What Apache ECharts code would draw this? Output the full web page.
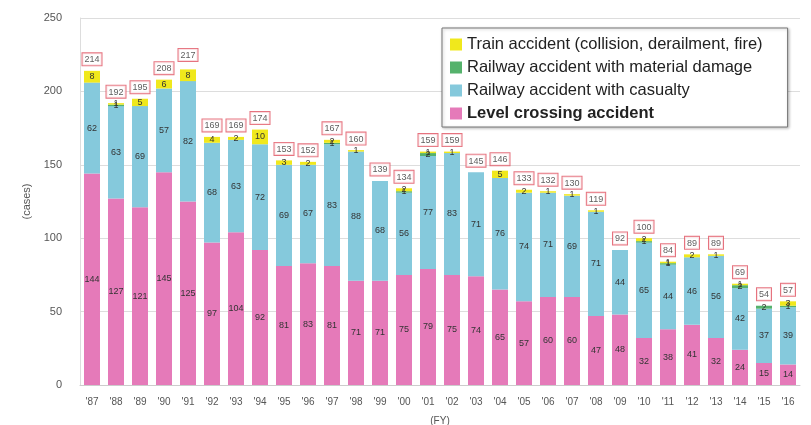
<!DOCTYPE html>
<html><head><meta charset="utf-8">
<script src="https://cdn.jsdelivr.net/npm/echarts@6/dist/echarts.min.js"></script>
<style>html,body{margin:0;padding:0;background:#fff}#c{width:811px;height:425px}</style>
</head><body><div id="c"></div>
<script>
var years = ["'87","'88","'89","'90","'91","'92","'93","'94","'95","'96","'97","'98","'99","'00","'01","'02","'03","'04","'05","'06","'07","'08","'09","'10","'11","'12","'13","'14","'15","'16"];
var levelCrossing = [144,127,121,145,125,97,104,92,81,83,81,71,71,75,79,75,74,65,57,60,60,47,48,32,38,41,32,24,15,14];
var casualty      = [62,63,69,57,82,68,63,72,69,67,83,88,68,56,77,83,71,76,74,71,69,71,44,65,44,46,56,42,37,39];
var material      = [0,1,0,0,0,0,0,0,0,0,1,0,0,1,2,0,0,0,0,0,0,0,0,1,1,0,0,2,2,1];
var train         = [8,1,5,6,8,4,2,10,3,2,2,1,0,2,1,1,0,5,2,1,1,1,0,2,1,2,1,1,0,3];
var totals        = [214,192,195,208,217,169,169,174,153,152,167,160,139,134,159,159,145,146,133,132,130,119,92,100,84,89,89,69,54,57];
var names = ['Train accident (collision, derailment, fire)','Railway accident with material damage','Railway accident with casualty','Level crossing accident'];

var chart = echarts.init(document.getElementById('c'));
function seg(name, data, color){
  return {name:name, type:'bar', stack:'a', data:data, barWidth:16,
    itemStyle:{color:color},
    label:{show:true, position:'inside', fontSize:9, color:'#333',
      formatter:function(p){return p.value>0?p.value:'';}}};
}
chart.setOption({
  animation:false,
  textStyle:{fontFamily:'Liberation Sans, Arial, sans-serif'},
  grid:{left:80,right:11,top:18,bottom:40,outerBoundsMode:'none',containLabel:false},
  legend:{orient:'vertical', left:442, top:28,
    backgroundColor:'#fff', borderColor:'#777', borderWidth:1, padding:[8,25,5,8],
    shadowColor:'rgba(0,0,0,0.25)', shadowBlur:3, shadowOffsetX:1, shadowOffsetY:1,
    itemWidth:12, itemHeight:12, itemGap:6, icon:'rect',
    textStyle:{fontSize:16.5, color:'#222', lineHeight:16},
    data:[{name:names[0]},{name:names[1]},{name:names[2]},{name:names[3], textStyle:{fontWeight:'bold'}}]},
  xAxis:{type:'category', data:years, name:'(FY)', nameLocation:'middle', nameGap:31,
    nameTextStyle:{fontSize:10,color:'#555'},
    axisLine:{lineStyle:{color:'#ccc'}}, axisTick:{show:false},
    axisLabel:{fontSize:10,color:'#555',margin:12}},
  yAxis:{type:'value', min:0, max:250, interval:50, name:'(cases)', nameLocation:'middle', nameGap:48,
    nameTextStyle:{fontSize:11,color:'#555'},
    axisLine:{show:true,lineStyle:{color:'#ddd'}},
    axisLabel:{fontSize:11,color:'#555',margin:18},
    splitLine:{lineStyle:{color:'#ddd'}}},
  series:[
    seg(names[3], levelCrossing, '#e57ab9'),
    seg(names[2], casualty, '#85c9dc'),
    seg(names[1], material, '#55b26c'),
    seg(names[0], train, '#f0e81c'),
    {name:'total', type:'scatter', data:totals, symbolSize:1, itemStyle:{color:'rgba(0,0,0,0)'},
      label:{show:true, position:'top', distance:5, fontSize:9, color:'#333',
        backgroundColor:'#fff', borderColor:'#e0505f', borderWidth:1, padding:[2,2,1,2]}}
  ]
});
</script></body></html>
